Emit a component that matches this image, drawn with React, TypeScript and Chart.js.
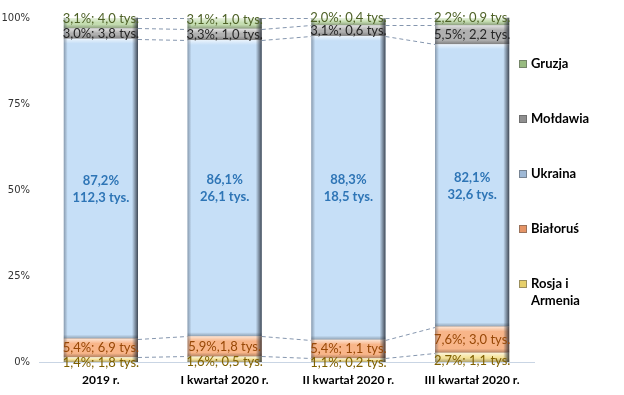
import React, { useEffect, useRef } from "react";
import { Chart, registerables } from "chart.js";

Chart.register(...registerables);

const categories = ["2019 r.", "I kwartał 2020 r.", "II kwartał 2020 r.", "III kwartał 2020 r."];
const seriesNames = ["Rosja i Armenia", "Białoruś", "Ukraina", "Mołdawia", "Gruzja"];
const rosjaPct = [1.4, 1.6, 1.1, 2.7];
const bialorusPct = [5.4, 5.9, 5.4, 7.6];
const ukrainaPct = [87.2, 86.1, 88.3, 82.1];
const moldawiaPct = [3.0, 3.3, 3.1, 5.5];
const gruzjaPct = [3.1, 3.1, 2.0, 2.2];
const rosjaTys = [1.8, 0.5, 0.2, 1.1];
const bialorusTys = [6.9, 1.8, 1.1, 3.0];
const ukrainaTys = [112.3, 26.1, 18.5, 32.6];
const moldawiaTys = [3.8, 1.0, 0.6, 2.2];
const gruzjaTys = [4.0, 1.0, 0.4, 0.9];
const bialorusSeparators = ["; ", ",", "; ", "; "];
const yTicks = [0, 25, 50, 75, 100];

const fills = ["#f5e39a", "#f8b589", "#c6dff7", "#b0b0b0", "#c4ddb0"];
const textColors = ["#7f6000", "#984807", "#2e75b6", "#262626", "#4f6228"];
const legendColors = ["#e6cf6a", "#e59466", "#9fb9d6", "#8f8f8f", "#98bb80"];

const fmt = (v: number) => v.toFixed(1).replace(".", ",");

const FONT = "Lato, 'Open Sans', sans-serif";

export default function App() {
  const ref = useRef<HTMLCanvasElement | null>(null);
  useEffect(() => {
    document.body.style.margin = "0";
    const pcts = [rosjaPct, bialorusPct, ukrainaPct, moldawiaPct, gruzjaPct];
    const tys = [rosjaTys, bialorusTys, ukrainaTys, moldawiaTys, gruzjaTys];

    const bevelPlugin = {
      id: "bevel",
      afterDatasetsDraw(chart: any) {
        const ctx = chart.ctx;
        ctx.save();
        chart.data.datasets.forEach((_: any, di: number) => {
          const meta = chart.getDatasetMeta(di);
          meta.data.forEach((el: any) => {
            const left = el.x - el.width / 2;
            const right = el.x + el.width / 2;
            const top = Math.min(el.y, el.base);
            const bottom = Math.max(el.y, el.base);
            const h = bottom - top;
            // top highlight
            let g = ctx.createLinearGradient(0, top, 0, top + Math.min(5, h / 2));
            g.addColorStop(0, "rgba(255,255,255,0.65)");
            g.addColorStop(1, "rgba(255,255,255,0)");
            ctx.fillStyle = g;
            ctx.fillRect(left, top, el.width, Math.min(5, h / 2));
            // bottom shade
            g = ctx.createLinearGradient(0, bottom - Math.min(4, h / 2), 0, bottom);
            g.addColorStop(0, "rgba(0,0,0,0)");
            g.addColorStop(1, "rgba(0,0,0,0.28)");
            ctx.fillStyle = g;
            ctx.fillRect(left, bottom - Math.min(4, h / 2), el.width, Math.min(4, h / 2));
            // left edge
            g = ctx.createLinearGradient(left, 0, left + 4, 0);
            g.addColorStop(0, "rgba(60,70,85,0.45)");
            g.addColorStop(1, "rgba(60,70,85,0)");
            ctx.fillStyle = g;
            ctx.fillRect(left, top, 4, h);
            // right edge
            g = ctx.createLinearGradient(right - 6, 0, right, 0);
            g.addColorStop(0, "rgba(30,35,45,0)");
            g.addColorStop(1, "rgba(30,35,45,0.8)");
            ctx.fillStyle = g;
            ctx.fillRect(right - 6, top, 6, h);
          });
        });
        ctx.restore();
      },
    };

    const seriesLinePlugin = {
      id: "serieslines",
      beforeDatasetsDraw(chart: any) {
        const ctx = chart.ctx;
        ctx.save();
        ctx.strokeStyle = "#8596ae";
        ctx.lineWidth = 1;
        ctx.setLineDash([4, 3]);
        chart.data.datasets.forEach((_: any, di: number) => {
          const meta = chart.getDatasetMeta(di);
          for (let j = 0; j < meta.data.length - 1; j++) {
            const a = meta.data[j];
            const b = meta.data[j + 1];
            ctx.beginPath();
            ctx.moveTo(a.x + a.width / 2, Math.round(a.y) + 0.5);
            ctx.lineTo(b.x - b.width / 2, Math.round(b.y) + 0.5);
            ctx.stroke();
          }
        });
        ctx.restore();
      },
    };

    const labelPlugin = {
      id: "labels",
      afterDatasetsDraw(chart: any) {
        const ctx = chart.ctx;
        ctx.save();
        ctx.textAlign = "center";
        ctx.textBaseline = "middle";
        chart.data.datasets.forEach((_: any, di: number) => {
          const meta = chart.getDatasetMeta(di);
          meta.data.forEach((el: any, j: number) => {
            const c = (el.y + el.base) / 2;
            ctx.fillStyle = textColors[di];
            if (di === 2) {
              ctx.font = `bold 13px ${FONT}`;
              ctx.fillText(`${fmt(pcts[di][j])}%`, el.x, c - 8);
              ctx.fillText(`${fmt(tys[di][j])} tys.`, el.x, c + 9);
            } else {
              ctx.font = `13px ${FONT}`;
              const sep = di === 1 ? bialorusSeparators[j] : "; ";
              let y = c;
              if (di === 0) y = c + 3;
              if (di === 4) y = c - 4;
              ctx.fillText(`${fmt(pcts[di][j])}%${sep}${fmt(tys[di][j])} tys.`, el.x, y);
            }
          });
        });
        ctx.restore();
      },
    };

    const legendPlugin = {
      id: "customLegend",
      afterDraw(chart: any) {
        const ctx = chart.ctx;
        ctx.save();
        const ys = [284, 229, 174, 119, 64];
        ctx.font = `bold 13px ${FONT}`;
        ctx.textAlign = "left";
        ctx.textBaseline = "middle";
        seriesNames.forEach((name, i) => {
          const y = ys[i];
          ctx.fillStyle = legendColors[i];
          ctx.fillRect(519, y - 4, 8, 8);
          ctx.strokeStyle = "rgba(80,80,80,0.5)";
          ctx.lineWidth = 1;
          ctx.strokeRect(519.5, y - 3.5, 7, 7);
          ctx.fillStyle = "#000";
          const parts = name === "Rosja i Armenia" ? ["Rosja i", "Armenia"] : [name];
          parts.forEach((p, k) => ctx.fillText(p, 531, y + k * 17));
        });
        ctx.restore();
      },
    };

    const chart = new Chart(ref.current as HTMLCanvasElement, {
      type: "bar",
      data: {
        labels: categories,
        datasets: seriesNames.map((name, i) => ({
          label: name,
          data: [rosjaPct, bialorusPct, ukrainaPct, moldawiaPct, gruzjaPct][i],
          backgroundColor: fills[i],
          borderWidth: 0,
          categoryPercentage: 1,
          barPercentage: 0.6,
        })),
      },
      options: {
        animation: false,
        responsive: false,
        layout: { padding: { top: 18, right: 90, left: 0, bottom: 0 } },
        plugins: { legend: { display: false }, tooltip: { enabled: false } },
        scales: {
          x: {
            stacked: true,
            grid: { display: false, drawTicks: false },
            border: { display: true, color: "#c9d5e4" },
            ticks: { font: { family: FONT, size: 12, weight: "bold" }, color: "#000", padding: 11 },
            afterFit: (s: any) => { s.height = 33; },
          },
          y: {
            stacked: true,
            min: 0,
            max: 100,
            afterBuildTicks: (s: any) => { s.ticks = yTicks.map((v) => ({ value: v })); },
            grid: { display: false, drawTicks: false },
            border: { display: false },
            ticks: {
              font: { family: "'DejaVu Sans', sans-serif", size: 10 },
              color: "#333",
              padding: 9,
              callback: (v: any) => `${v}%`,
            },
            afterFit: (s: any) => { s.width = 39; },
          },
        },
      },
      plugins: [seriesLinePlugin, bevelPlugin, labelPlugin, legendPlugin],
    } as any);
    return () => chart.destroy();
  }, []);
  return (
    <div style={{ width: 624, height: 395 }}>
      <canvas ref={ref} width={624} height={395} />
    </div>
  );
}
